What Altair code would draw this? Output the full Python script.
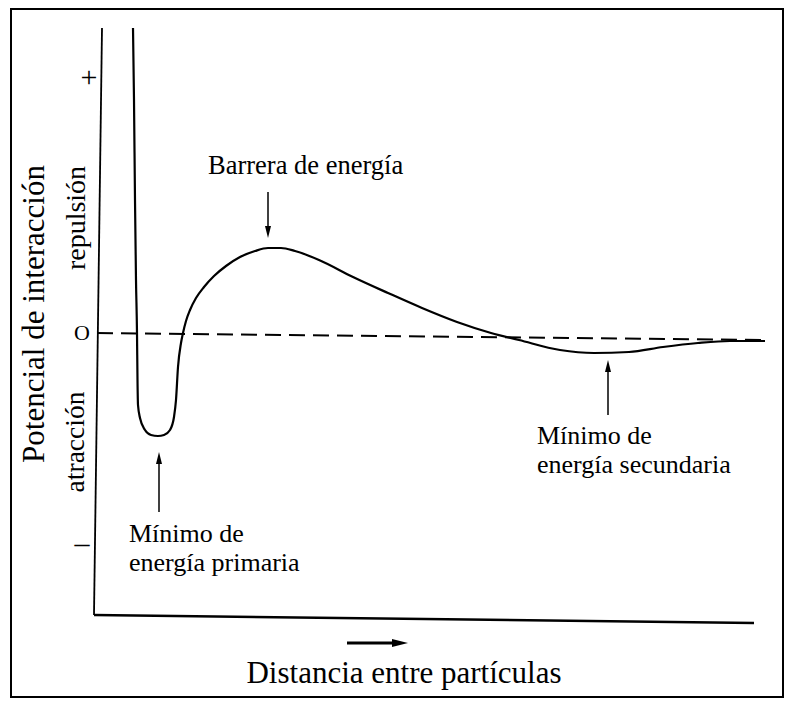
import altair as alt
import pandas as pd

# ---- data (page-like units: x to the right, y downward) ----
curve_x = [133, 134, 135, 136, 137, 137.5, 138, 140, 145, 151, 158, 164, 170, 174, 176, 178, 181, 183,
           186, 190, 196, 204, 214, 226, 240, 255, 268, 281, 295, 319, 353, 388, 422, 457, 491, 519, 560,
           594, 629, 663, 698, 730, 765]
curve_y = [28, 100, 200, 280, 333, 380, 405, 418, 430, 435, 436, 435, 430, 417, 400, 367, 343, 333,
           321, 310, 298, 287, 276, 266, 257, 251, 248, 248, 251, 260, 277, 293, 308, 322, 333, 340, 350,
           353, 352, 347, 343, 341, 341]

zero_x = [97, 765]
zero_y = [333, 340]

yaxis_x = [102, 94]
yaxis_y = [28, 615]
xaxis_x = [94, 754]
xaxis_y = [615, 623]

frame = {"x": 11, "x2": 783, "y": 9, "y2": 697}

arrow_names = ["barrera", "primaria", "secundaria", "distancia"]
arrow_x1 = [268, 159, 608, 347]
arrow_y1 = [192, 462, 368, 643]
arrow_x2 = [268, 159, 608, 392]
arrow_y2 = [230, 512, 415, 643]
arrow_w = [1.5, 1.5, 1.5, 3]

head_x = [268, 159, 608, 400]
head_y = [232, 458, 366, 643]
head_shape = ["M-0.5,-1L0.5,-1L0,1Z", "M-0.5,1L0.5,1L0,-1Z", "M-0.5,1L0.5,1L0,-1Z", "M-1,-0.5L1,0L-1,0.5Z"]
head_size = [144, 144, 144, 256]

left_texts = ["Barrera de energía", "Mínimo de", "energía primaria", "Mínimo de", "energía secundaria"]
left_x = [208, 129, 129, 537, 537]
left_y = [174, 542, 571, 444, 473]
left_size = [26.5, 26, 26, 26, 26]

center_texts = ["Distancia entre partículas", "Potencial de interacción", "repulsión", "atracción", "+", "O", "–"]
center_x = [404, 44, 85, 84, 89, 82, 82]
center_y = [683, 314, 218, 442, 87, 340, 553]
center_size = [31, 31, 28, 27.5, 30, 22, 30]
center_angle = [0, 270, 270, 270, 0, 0, 0]

# ---- scales ----
XS = alt.Scale(domain=[8, 785], nice=False, zero=False)
YS = alt.Scale(domain=[8, 698], nice=False, zero=False, reverse=True)


def X(f):
    return alt.X(f, type="quantitative", scale=XS, axis=None)


def Y(f):
    return alt.Y(f, type="quantitative", scale=YS, axis=None)


FONT = "Liberation Serif, Times New Roman, serif"

frame_df = pd.DataFrame([frame])
border = alt.Chart(frame_df).mark_rect(fill=None, stroke="black", strokeWidth=2).encode(
    x=X("x"), x2="x2", y=Y("y"), y2="y2")

yaxis = alt.Chart(pd.DataFrame({"x": yaxis_x, "y": yaxis_y, "o": [0, 1]})).mark_line(
    color="black", strokeWidth=1.8).encode(x=X("x"), y=Y("y"), order="o:Q")
xaxis = alt.Chart(pd.DataFrame({"x": xaxis_x, "y": xaxis_y, "o": [0, 1]})).mark_line(
    color="black", strokeWidth=2.6).encode(x=X("x"), y=Y("y"), order="o:Q")

zero = alt.Chart(pd.DataFrame({"x": zero_x, "y": zero_y, "o": [0, 1]})).mark_line(
    color="black", strokeWidth=2, strokeDash=[16, 8]).encode(x=X("x"), y=Y("y"), order="o:Q")

curve = alt.Chart(pd.DataFrame({"x": curve_x, "y": curve_y, "o": list(range(len(curve_x)))})).mark_line(
    color="black", strokeWidth=2.2, interpolate="monotone").encode(x=X("x"), y=Y("y"), order="o:Q")

arrows_df = pd.DataFrame({"name": arrow_names, "x": arrow_x1, "y": arrow_y1,
                          "x2": arrow_x2, "y2": arrow_y2, "w": arrow_w})
arrows = alt.Chart(arrows_df).mark_rule(color="black").encode(
    x=X("x"), y=Y("y"), x2="x2", y2="y2",
    strokeWidth=alt.StrokeWidth("w:Q", scale=None))

heads = alt.layer(*[
    alt.Chart(pd.DataFrame({"x": [hx], "y": [hy]})).mark_point(
        shape=hs, size=sz, filled=True, color="black", opacity=1, strokeWidth=0).encode(
        x=X("x"), y=Y("y"))
    for hx, hy, hs, sz in zip(head_x, head_y, head_shape, head_size)
])

left_df = pd.DataFrame({"t": left_texts, "x": left_x, "y": left_y, "s": left_size})
left_txt = alt.Chart(left_df).mark_text(align="left", baseline="alphabetic", font=FONT,
                                        color="black").encode(
    x=X("x"), y=Y("y"), text="t:N", size=alt.Size("s:Q", scale=None))

center_df = pd.DataFrame({"t": center_texts, "x": center_x, "y": center_y,
                          "s": center_size, "a": center_angle})
center_txt = alt.Chart(center_df).mark_text(align="center", baseline="alphabetic", font=FONT,
                                            color="black").encode(
    x=X("x"), y=Y("y"), text="t:N", size=alt.Size("s:Q", scale=None),
    angle=alt.Angle("a:Q", scale=None))

chart = alt.layer(border, yaxis, xaxis, zero, curve, arrows, heads, left_txt, center_txt).properties(
    width=777, height=690, padding=0, autosize=alt.AutoSizeParams(type="none"),
    background="white"
).configure_view(stroke=None)

chart.save("out.html", embed_options={"renderer": "svg", "actions": False})
